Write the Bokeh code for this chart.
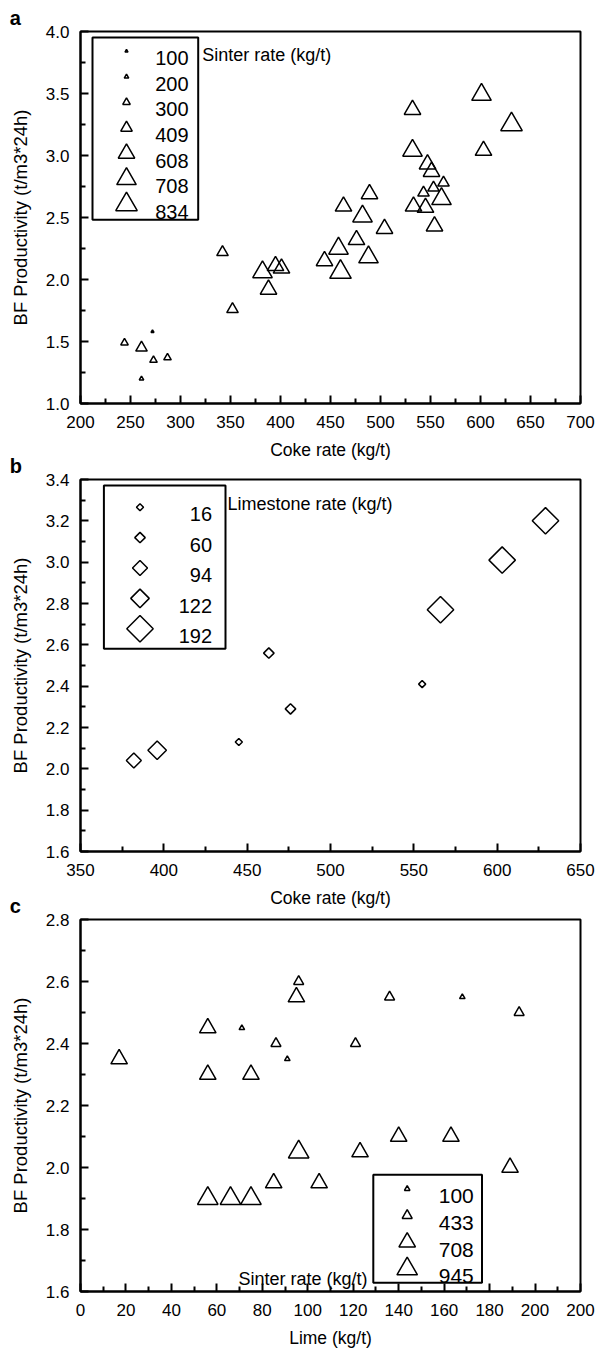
import numpy as np
from bokeh.plotting import figure
from bokeh.models import Range1d, FixedTicker, Label, ColumnDataSource, NumeralTickFormatter, Title
from bokeh.layouts import column
from bokeh.embed import file_html
from bokeh.resources import INLINE
from bokeh.core.properties import value

# ---------------- data ----------------
# Panel a: coke rate vs BF productivity, marker size = sinter rate
coke_a = [532, 601, 631, 532, 603, 547, 551, 563, 553, 543, 489, 533, 545, 561, 554,
          463, 482, 504, 476, 458, 488, 444, 460, 342, 395, 401, 382, 388, 352, 272,
          244, 261, 273, 287, 261]
prod_a = [3.37, 3.49, 3.25, 3.04, 3.04, 2.93, 2.87, 2.78, 2.74, 2.70, 2.69, 2.59, 2.58, 2.65, 2.43,
          2.59, 2.51, 2.41, 2.32, 2.25, 2.18, 2.15, 2.06, 2.22, 2.11, 2.09, 2.06, 1.92, 1.76, 1.58,
          1.49, 1.45, 1.35, 1.37, 1.20]
sinter_a = [608, 708, 834, 708, 608, 608, 608, 409, 409, 409, 608, 608, 608, 708, 608,
            608, 708, 608, 608, 708, 708, 608, 834, 409, 608, 608, 708, 608, 409, 100,
            300, 409, 300, 300, 200]
sinter_levels_a = [100, 200, 300, 409, 608, 708, 834]

# Panel b: coke rate vs BF productivity, marker size = limestone rate
coke_b = [382, 396, 445, 463, 476, 555, 566, 603, 629]
prod_b = [2.04, 2.09, 2.13, 2.56, 2.29, 2.41, 2.77, 3.01, 3.20]
limestone_b = [94, 122, 16, 60, 60, 16, 192, 192, 192]
limestone_levels_b = [16, 60, 94, 122, 192]

# Panel c: lime vs BF productivity, marker size = sinter rate
lime_c = [17, 56, 56, 75, 95, 71, 91, 168, 86, 96, 121, 136, 193,
          96, 56, 66, 75, 85, 105, 123, 140, 163, 189]
prod_c = [2.35, 2.45, 2.30, 2.30, 2.55, 2.45, 2.35, 2.55, 2.40, 2.60, 2.40, 2.55, 2.50,
          2.05, 1.90, 1.90, 1.90, 1.95, 1.95, 2.05, 2.10, 2.10, 2.00]
sinter_c = [708, 708, 708, 708, 708, 100, 100, 100, 433, 433, 433, 433, 433,
            945, 945, 945, 945, 708, 708, 708, 708, 708, 708]
sinter_levels_c = [100, 433, 708, 945]

# axis ticks / labels
xticks_a = [200, 250, 300, 350, 400, 450, 500, 550, 600, 650, 700]
yticks_a = [1.0, 1.5, 2.0, 2.5, 3.0, 3.5, 4.0]
xticks_b = [350, 400, 450, 500, 550, 600, 650]
yticks_b = [1.6, 1.8, 2.0, 2.2, 2.4, 2.6, 2.8, 3.0, 3.2, 3.4]
xticks_c = [0, 20, 40, 60, 80, 100, 120, 140, 160, 180, 200, 220]
xtick_labels_c = ["0", "20", "40", "60", "80", "100", "120", "140", "160", "180", "200", "200"]
yticks_c = [1.6, 1.8, 2.0, 2.2, 2.4, 2.6, 2.8]

# ---------------- styles ----------------
FONT = "Liberation Sans"
FW, FH = 500, 372
TOP, BOTTOM = 40, 62
size_a = {100: 3, 200: 4.5, 300: 7.5, 409: 11.5, 608: 16.5, 708: 19.5, 834: 21.5}
size_b = {16: 5, 60: 7.4, 94: 10.6, 122: 13.1, 192: 18.7}
size_c = {100: 5.5, 433: 10, 708: 16.5, 945: 20.5}
YTITLE = "BF Productivity (t/m3*24h)"


def minors(ticks):
    return [(a + b) / 2 for a, b in zip(ticks[:-1], ticks[1:])]


def make_fig(xr, yr, xt, yt, letter, xtitle, margin, xover=None):
    title = Title(text=letter, align="left", offset=-70.7, standoff=5, vertical_align="bottom",
                  text_font=FONT, text_font_size="20px", text_font_style="bold", text_color="black")
    p = figure(frame_width=FW, frame_height=FH, min_border_left=80, min_border_right=23,
               min_border_top=TOP, min_border_bottom=BOTTOM, title=title, margin=margin,
               x_range=Range1d(*xr), y_range=Range1d(*yr),
               toolbar_location=None, output_backend="svg")
    p.extra_x_ranges = {"px": Range1d(0, FW)}
    p.extra_y_ranges = {"px": Range1d(0, FH)}
    p.grid.visible = False
    p.outline_line_color = "black"
    p.outline_line_width = 2
    p.background_fill_color = "white"
    p.border_fill_color = None
    p.xaxis.ticker = FixedTicker(ticks=xt, minor_ticks=minors(xt))
    p.yaxis.ticker = FixedTicker(ticks=yt, minor_ticks=minors(yt))
    p.yaxis.formatter = NumeralTickFormatter(format="0.0")
    if xover:
        p.xaxis.major_label_overrides = xover
    for ax in (p.xaxis, p.yaxis):
        ax.axis_line_width = 2
        ax.axis_line_color = "black"
        ax.major_tick_in = 8
        ax.major_tick_out = 0
        ax.minor_tick_in = 5
        ax.minor_tick_out = 0
        ax.major_tick_line_width = 2
        ax.minor_tick_line_width = 2
        ax.major_tick_line_color = "black"
        ax.minor_tick_line_color = "black"
        ax.major_label_text_font = FONT
        ax.major_label_text_font_size = "17px"
        ax.major_label_text_color = "black"
        ax.axis_label_text_font = FONT
        ax.axis_label_text_font_style = "normal"
        ax.axis_label_text_color = "black"
    p.xaxis.major_label_standoff = 12
    p.yaxis.major_label_standoff = 11
    p.xaxis.axis_label = xtitle
    p.xaxis.axis_label_text_font_size = "17.5px"
    p.xaxis.axis_label_standoff = 9
    p.yaxis.axis_label = YTITLE
    p.yaxis.axis_label_text_font_size = "18.5px"
    p.yaxis.axis_label_standoff = 12
    return p


def text_label(p, x, y, text, size, align="left"):
    p.add_layout(Label(x=x, y=y, x_units="screen", y_units="screen", text=text,
                       text_font=FONT, text_font_size=size, text_color="black",
                       text_align=align, text_baseline="alphabetic"))


def legend(p, levels, sizes, marker, angle, box, mx, lx, row0, dy, fsize):
    left, right, bottom, top = box
    p.quad(left=[left], right=[right], bottom=[bottom], top=[top], fill_color="white",
           line_color="black", line_width=2, x_range_name="px", y_range_name="px")
    ys = [row0 - i * dy for i in range(len(levels))]
    fs = int(fsize.replace("px", ""))
    src = ColumnDataSource(dict(x=[mx] * len(levels), y=ys, s=[sizes[v] for v in levels],
                                tx=[lx] * len(levels), ty=[y - 0.358 * fs for y in ys],
                                t=[str(v) for v in levels]))
    p.scatter(x="x", y="y", size="s", marker=marker, angle=angle, source=src,
              fill_color=None, line_color="black", line_width=1.5,
              x_range_name="px", y_range_name="px")
    p.text(x="tx", y="ty", text="t", source=src, text_align="right", text_baseline="alphabetic",
           text_font=value(FONT), text_font_size=value(fsize), text_color="black",
           x_range_name="px", y_range_name="px")


def scatter(p, xs, ys, cats, sizes, marker, angle=0.0):
    src = ColumnDataSource(dict(x=xs, y=ys, s=[sizes[c] for c in cats]))
    p.scatter(x="x", y="y", size="s", marker=marker, angle=angle, source=src,
              fill_color=None, line_color="black", line_width=1.5)


H = TOP + FH + BOTTOM
# absolute frame tops on the page: 31, 479, 919 (the page body has no margin)
top_a = 31 - TOP
top_b = 479 - TOP
top_c = 919 - TOP

# ---------------- panel a ----------------
pa = make_fig((200, 700), (1.0, 4.0), xticks_a, yticks_a, "a", "Coke rate (kg/t)",
              (top_a, 0, 0, 0))
scatter(pa, coke_a, prod_a, sinter_a, size_a, "triangle")
legend(pa, sinter_levels_a, size_a, "triangle", 0.0, (12, 117.7, 183.7, 366), 46, 108, 352.3, 25.55, "20px")
text_label(pa, 121.7, 348.4, "Sinter rate (kg/t)", "18px")

# ---------------- panel b ----------------
pb = make_fig((350, 650), (1.6, 3.4), xticks_b, yticks_b, "b", "Coke rate (kg/t)",
              (top_b - (top_a + H), 0, 0, 0))
scatter(pb, coke_b, prod_b, limestone_b, size_b, "square", angle=np.pi / 4)
legend(pb, limestone_levels_b, size_b, "square", np.pi / 4, (23.4, 145, 202.7, 366), 59.5, 131.6, 344.3, 30.4, "20px")
text_label(pb, 147, 348, "Limestone rate (kg/t)", "18px")

# ---------------- panel c ----------------
pc = make_fig((0, 220), (1.6, 2.8), xticks_c, yticks_c, "c", "Lime (kg/t)",
              (top_c - (top_b + H), 0, 0, 0),
              xover={t: l for t, l in zip(xticks_c, xtick_labels_c)})
scatter(pc, lime_c, prod_c, sinter_c, size_c, "triangle")
legend(pc, sinter_levels_c, size_c, "triangle", 0.0, (292.8, 401.5, 8.7, 116.7), 326.7, 393.3, 102.7, 26.7, "21px")
text_label(pc, 287, 13, "Sinter rate (kg/t)", "18px", align="right")

layout = column(pa, pb, pc, spacing=0)
open("out.html", "w").write(file_html(layout, INLINE))
